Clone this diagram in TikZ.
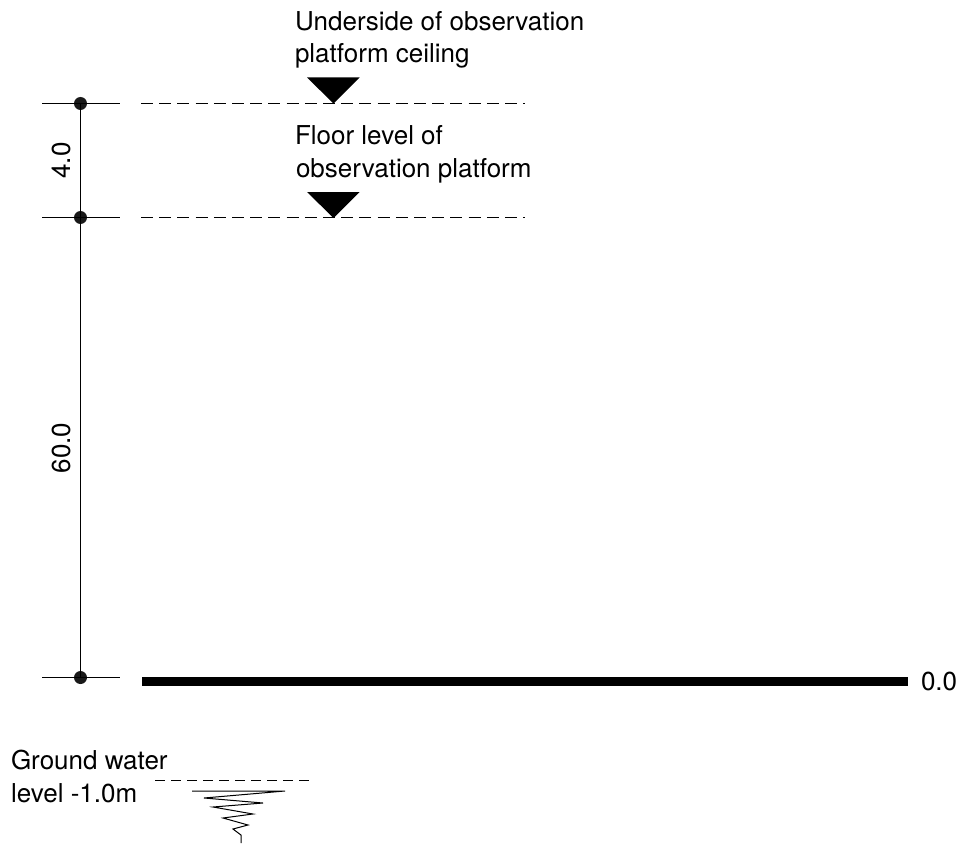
\documentclass[tikz,border=0pt]{standalone}
\usepackage{fontspec}
\setmainfont{TeX Gyre Heros}
\tikzset{
  x=1pt,y=-1pt,
  lbl/.style={inner sep=0pt,outer sep=0pt,font=\fontsize{26}{33}\selectfont,text=black,align=left},
  dot/.style={circle,fill=black!90,minimum size=13pt,inner sep=0pt},
  thin line/.style={draw=black,line width=1pt},
  level dash/.style={draw=black,line width=1pt,dash pattern=on 12pt off 6.2pt},
  ground dash/.style={draw=black,line width=1pt,dash pattern=on 10pt off 6pt},
  marker/.style={fill=black}
}
\begin{document}
\begin{tikzpicture}
\useasboundingbox (0,0) rectangle (960,845);
% dimension line
\node[dot] (d1) at (80.5,103.5) {};
\node[dot] (d2) at (80.5,217.5) {};
\node[dot] (d3) at (80.5,677.5) {};
\draw[thin line] (d1.center) -- (d2.center) -- (d3.center);
\foreach \n/\y in {a/103.5,b/217.5,c/677.5}{
  \coordinate (\n L) at (42,\y);
  \coordinate (\n R) at (120,\y);
  \draw[thin line] (\n L) -- (\n R);
}
% levels
\coordinate (l1a) at (141,103.5); \coordinate (l1b) at (525,103.5);
\coordinate (l2a) at (141,217.5); \coordinate (l2b) at (525,217.5);
\draw[level dash] (l1a) -- (l1b);
\draw[level dash] (l2a) -- (l2b);
\fill[marker] (307,77.5) -- (359.5,77.5) -- (333.5,103.5) -- cycle;
\fill[marker] (307,192) -- (359.5,192) -- (333.5,218) -- cycle;
% ground
\fill[black] (142,677) rectangle (908,686);
% ground water
\coordinate (g1) at (155,780.5); \coordinate (g2) at (309,780.5);
\draw[ground dash] (g1) -- (g2);
\draw[draw=black,line width=1pt,line join=miter] (192,791) -- (285,791) -- (204,798) -- (263,803) -- (213,807) -- (253,814) -- (223,818) -- (248,825) -- (233,829) -- (241,835) -- (241,843);
% labels
\node[lbl,anchor=base west] (t1) at (295,30.5) {Underside of observation};
\node[lbl,anchor=base west] (t2) at (295,62.5) {platform ceiling};
\node[lbl,anchor=base west] (t3) at (295,145) {Floor level of};
\node[lbl,anchor=base west] (t4) at (296,177.5) {observation platform};
\node[lbl,anchor=base west] (t5) at (921,690) {0.0};
\node[lbl,anchor=base west] (t6) at (11,769) {Ground water};
\node[lbl,anchor=base west] (t7) at (11,802) {level -1.0m};
\node[lbl,rotate=90,anchor=base] (t8) at (70,160.5) {4.0};
\node[lbl,rotate=90,anchor=base] (t9) at (70,448) {60.0};
\end{tikzpicture}
\end{document}
